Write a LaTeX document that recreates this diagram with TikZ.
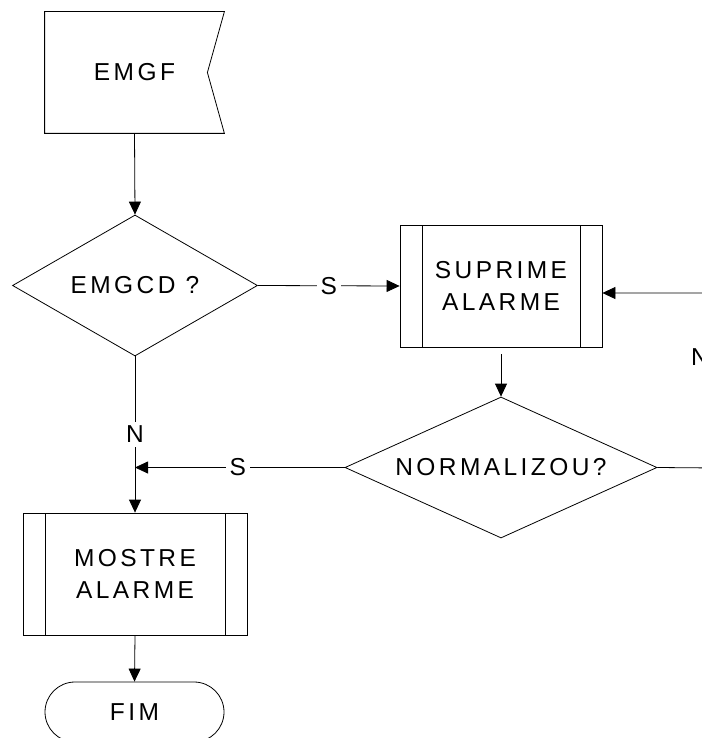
\documentclass[tikz,border=0pt]{standalone}
\usepackage{fontspec}
\setmainfont{Liberation Sans}
\newfontfamily\spaced[LetterSpace=14]{Liberation Sans}
\usetikzlibrary{shapes.geometric, arrows.meta}

\begin{document}
\begin{tikzpicture}[x=1pt, y=-1pt,
  line width=0.8pt,
  every node/.style={font=\spaced\fontsize{24.5}{32}\selectfont, align=center, inner sep=0pt},
  arr/.style={-{Triangle[length=13pt, width=12pt]}},
  lbl/.style={font=\fontsize{24.5}{28}\selectfont, fill=white, inner sep=4pt},
  decision/.style={draw, diamond, aspect=2, minimum width=#1, minimum height=141pt},
  subproc/.style={draw, rectangle, minimum width=#1, minimum height=122pt,
    path picture={
      \draw ([xshift=22pt]path picture bounding box.north west) -- ([xshift=22pt]path picture bounding box.south west);
      \draw ([xshift=-22pt]path picture bounding box.north east) -- ([xshift=-22pt]path picture bounding box.south east);
    }},
  terminal/.style={draw, rectangle, rounded corners=30pt, minimum width=179pt, minimum height=60pt}
]
\useasboundingbox (0,0) rectangle (701,738);

% off-page connector
\node[minimum width=179pt, minimum height=121pt] (emgf) at (134.5,72.5) {EMGF};
\draw (emgf.north west) -- (emgf.north east) -- ([xshift=-17pt]emgf.east)
      -- (emgf.south east) -- (emgf.south west) -- cycle;

% decisions
\node[decision=245pt] (d1) at (135,285.5) {EMGCD ?};
\node[decision=312pt] (norm) at (501,467.5) {NORMALIZOU?};

% predefined processes
\node[subproc=202pt] (sup) at (501,286) {SUPRIME\\ALARME};
\node[subproc=224pt] (most) at (135,574) {MOSTRE\\ALARME};

% end
\node[terminal] (fim) at (134.5,712) {FIM};

% helper points
\coordinate (join) at (d1.south |- norm.west);
\coordinate (loopA) at (717,468);
\coordinate (loopB) at (717,293);

% connectors
\draw[arr] (emgf.south) -- (d1.north);
\draw[arr] (d1.east) -- node[lbl] {S} (sup.west);
\draw[arr] (d1.south) -- node[lbl] {N} (most.north);
\draw[arr, shorten <=7pt] (sup.south) -- (norm.north);
\draw[arr] (norm.west) -- node[lbl, pos=0.51] {S} (join);
\draw[arr] (norm.east) -- (loopA) -- node[font=\fontsize{24.5}{28}\selectfont, pos=0.634, xshift=-17pt] {N} (loopB) -- (sup.east |- loopB);
\draw[arr] (most.south) -- (fim.north);
\end{tikzpicture}
\end{document}
